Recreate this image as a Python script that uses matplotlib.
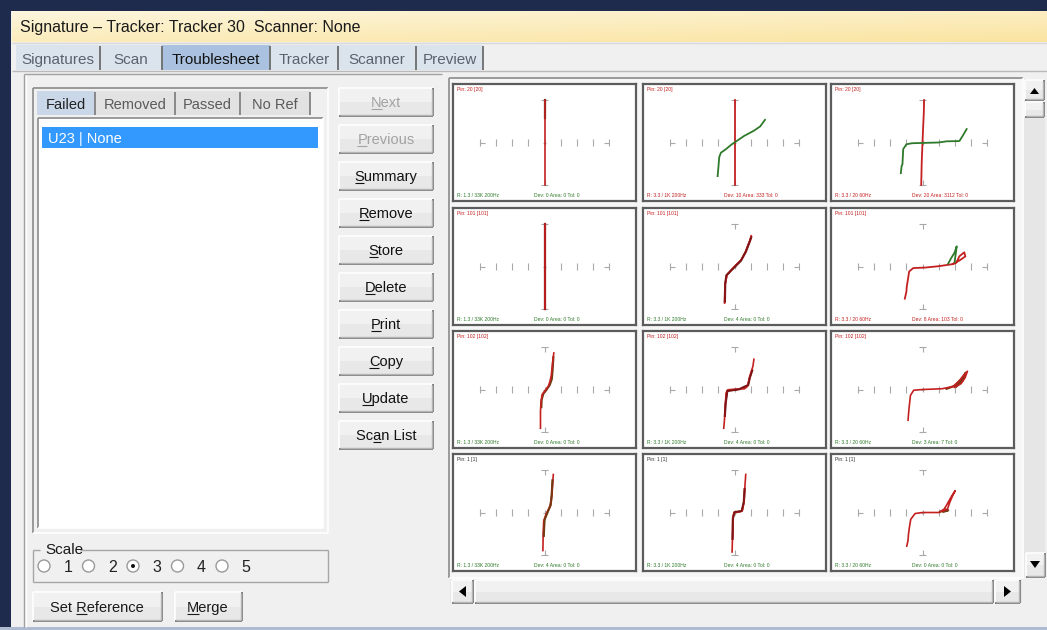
"""
    Signature Troublesheet screen
    - 12 V/I signature thumbnails (reference = red, measured = green)
"""
import numpy as np
import matplotlib
matplotlib.use('Agg')
import matplotlib.pyplot as plt
from matplotlib.patches import Rectangle, Circle, Polygon
from matplotlib.font_manager import FontProperties

W, H = 1047, 630
FONT = ['Liberation Sans', 'DejaVu Sans']
plt.rcParams['font.family'] = FONT

# ---- data -----------------------------------------------------------------
TITLE = 'Signature \u2013 Tracker: Tracker 30  Scanner: None'
TABS = ['Signatures', 'Scan', 'Troublesheet', 'Tracker', 'Scanner', 'Preview']
SUB_TABS = ['Failed', 'Removed', 'Passed', 'No Ref']
LIST_ITEMS = ['U23 | None']
BUTTONS = ['Next', 'Previous', 'Summary', 'Remove', 'Store', 'Delete', 'Print', 'Copy', 'Update', 'Scan List']
BUTTON_UL = [0, 0, 0, 0, 0, 0, 0, 0, 0, 2]
SCALES = ['1', '2', '3', '4', '5']
SCALE_SEL = 2

PIN_LABELS = ['Pin: 20 [20]'] * 3 + ['Pin: 101 [101]'] * 3 + ['Pin: 102 [102]'] * 3 + ['Pin: 1 [1]'] * 3
FREQ_LABELS = ['R: 1.3 / 33K 200Hz', 'R: 3.3 / 1K 200Hz', 'R: 3.3 / 20 60Hz']
DEV_LABELS = ['Dev: 0 Area: 0 Tol: 0', 'Dev: 10 Area: 333 Tol: 0', 'Dev: 20 Area: 3112 Tol: 0',
              'Dev: 0 Area: 0 Tol: 0', 'Dev: 4 Area: 0 Tol: 0', 'Dev: 8 Area: 103 Tol: 0',
              'Dev: 0 Area: 0 Tol: 0', 'Dev: 4 Area: 0 Tol: 0', 'Dev: 3 Area: 7 Tol: 0',
              'Dev: 4 Area: 0 Tol: 0', 'Dev: 4 Area: 0 Tol: 0', 'Dev: 0 Area: 0 Tol: 0']
FAILED = [False, True, True, False, False, True, False, False, False, False, False, False]

TICK_X = [-4, -3, -2, -1, 0, 1, 2, 3, 4]
TICK_Y = [-2.9, 2.9]

# row 0
P1_REF_X = [0, 0]
P1_REF_Y = [-2.9, 2.9]
P1_MEAS_X = [0.05, 0.05]
P1_MEAS_Y = [1.7, 2.9]
P2_REF_X = [0, 0]
P2_REF_Y = [-2.9, 2.9]
P2_MEAS_X = [-1.05, -0.95, -0.85, -0.55, -0.2, 0.0, 0.6, 1.2, 1.6, 1.9]
P2_MEAS_Y = [-2.3, -1.0, -0.7, -0.47, -0.15, 0.0, 0.45, 0.8, 1.1, 1.55]
P3_REF_X = [0.1, 0.08, 0.03, 0.0, -0.05, -0.08]
P3_REF_Y = [2.9, 2.0, 0.8, 0.0, -1.4, -2.9]
P3_MEAS_X = [-1.35, -1.3, -1.25, -1.2, -1.0, -0.65, 0.0, 1.0, 1.5, 2.3, 2.5, 2.75]
P3_MEAS_Y = [-2.1, -1.6, -1.5, -0.45, -0.12, -0.05, -0.03, 0.0, 0.08, 0.1, 0.45, 0.92]
# row 1
P4_REF_X = [0, 0]
P4_REF_Y = [-2.9, 2.9]
P4_MEAS_X = [0.02, 0.02]
P4_MEAS_Y = [-2.9, 2.9]
P5_REF_X = [-0.62, -0.6, -0.58, -0.46, -0.2, 0.0, 0.42, 0.67, 0.94, 1.04]
P5_REF_Y = [-2.5, -1.8, -1.15, -0.57, -0.25, 0.0, 0.46, 0.97, 1.72, 2.1]
P5_MEAS_X = [-0.6, -0.58, -0.5, -0.15, 0.4, 0.7, 0.98, 1.04]
P5_MEAS_Y = [-2.4, -1.2, -0.6, -0.2, 0.4, 1.0, 1.8, 2.0]
P6_REF_X = [-1.1, -1.0, -0.98, -0.83, -0.58, 0.2, 1.0, 1.875, 2.1, 2.3, 2.6, 2.67, 2.3, 2.0, 1.9]
P6_REF_Y = [-2.2, -1.7, -1.38, -0.34, -0.11, -0.07, 0.02, 0.16, 0.25, 0.7, 0.97, 0.69, 0.41, 0.25, 0.18]
P6_MEAS_X = [1.6, 1.8, 2.0, 2.13, 2.05, 2.0]
P6_MEAS_Y = [0.2, 0.6, 0.95, 1.38, 0.7, 0.3]
# row 2
P7_REF_X = [-0.25, -0.25, -0.22, -0.15, 0.05, 0.25, 0.35, 0.42, 0.5, 0.58]
P7_REF_Y = [-2.65, -1.5, -0.9, -0.35, -0.05, 0.25, 0.6, 0.95, 1.8, 2.5]
P7_MEAS_X = [-0.2, -0.18, -0.08, 0.12, 0.32, 0.45, 0.5, 0.55]
P7_MEAS_Y = [-1.2, -0.7, -0.3, -0.02, 0.3, 0.7, 1.3, 2.2]
P8_REF_X = [-0.67, -0.62, -0.58, -0.53, -0.42, 0.0, 0.62, 0.8, 0.88, 0.95, 1.15, 1.21]
P8_REF_Y = [-2.65, -2.0, -1.38, -0.25, -0.02, 0.02, 0.05, 0.2, 0.55, 0.9, 1.6, 2.07]
P8_MEAS_X = [-0.6, -0.56, -0.45, 0.3, 0.85, 0.95, 1.1]
P8_MEAS_Y = [-1.8, -1.0, -0.1, 0.02, 0.3, 0.8, 1.3]
P9_REF_X = [-0.9, -0.85, -0.75, -0.55, 0.0, 1.2, 1.9, 2.3, 2.6, 2.8, 2.65, 2.4, 2.0]
P9_REF_Y = [-2.1, -1.4, -0.4, -0.05, 0.0, 0.05, 0.2, 0.6, 1.0, 1.25, 0.8, 0.4, 0.15]
P9_MEAS_X = [1.5, 2.0, 2.4, 2.7, 2.5, 2.1]
P9_MEAS_Y = [0.05, 0.25, 0.7, 1.15, 0.6, 0.2]
# row 3
P10_REF_X = [-0.1, -0.08, -0.05, 0.1, 0.3, 0.42, 0.48, 0.55]
P10_REF_Y = [-2.6, -1.4, -0.6, -0.1, 0.3, 0.8, 1.6, 2.6]
P10_MEAS_X = [-0.05, 0.0, 0.2, 0.38, 0.45, 0.5]
P10_MEAS_Y = [-1.6, -0.5, 0.05, 0.5, 1.2, 2.2]
P11_REF_X = [-0.15, -0.12, -0.1, -0.02, 0.3, 0.5, 0.6, 0.65, 0.7]
P11_REF_Y = [-2.7, -1.5, -0.3, 0.0, 0.03, 0.15, 0.8, 1.8, 2.6]
P11_MEAS_X = [-0.12, -0.1, 0.0, 0.45, 0.58, 0.63]
P11_MEAS_Y = [-1.8, -0.4, 0.02, 0.1, 0.7, 1.6]
P12_REF_X = [-0.98, -0.9, -0.875, -0.8, -0.73, -0.46, 0.0, 1.04, 1.35, 1.55, 1.77, 1.95, 2.04, 1.9, 1.7, 1.56, 1.3]
P12_REF_Y = [-2.3, -1.9, -1.5, -0.9, -0.46, -0.07, 0.0, 0.0, 0.23, 0.6, 1.03, 1.35, 1.49, 1.2, 0.7, 0.25, 0.1]
P12_MEAS_X = [1.1, 1.4, 1.6, 1.3]
P12_MEAS_Y = [0.05, 0.2, 0.15, 0.05]

REF = [(P1_REF_X, P1_REF_Y), (P2_REF_X, P2_REF_Y), (P3_REF_X, P3_REF_Y),
       (P4_REF_X, P4_REF_Y), (P5_REF_X, P5_REF_Y), (P6_REF_X, P6_REF_Y),
       (P7_REF_X, P7_REF_Y), (P8_REF_X, P8_REF_Y), (P9_REF_X, P9_REF_Y),
       (P10_REF_X, P10_REF_Y), (P11_REF_X, P11_REF_Y), (P12_REF_X, P12_REF_Y)]
MEAS = [(P1_MEAS_X, P1_MEAS_Y), (P2_MEAS_X, P2_MEAS_Y), (P3_MEAS_X, P3_MEAS_Y),
        (P4_MEAS_X, P4_MEAS_Y), (P5_MEAS_X, P5_MEAS_Y), (P6_MEAS_X, P6_MEAS_Y),
        (P7_MEAS_X, P7_MEAS_Y), (P8_MEAS_X, P8_MEAS_Y), (P9_MEAS_X, P9_MEAS_Y),
        (P10_MEAS_X, P10_MEAS_Y), (P11_MEAS_X, P11_MEAS_Y), (P12_MEAS_X, P12_MEAS_Y)]
# measured trace colour: green when it differs, dark red/brown when it sits on the reference
MEAS_COL = ['#4a3a14', '#2f7a2a', '#2f7a2a', '#7a1414', '#7a1414', '#2f7a2a',
            '#6e3b12', '#7a1414', '#6e3b12', '#6e3b12', '#7a1414', '#6e3b12']
MEAS_FIRST = [False, True, True, False, False, True, False, False, False, False, False, False]

# ---- canvas ---------------------------------------------------------------
fig = plt.figure(figsize=(W / 100, H / 100), dpi=100)
ui = fig.add_axes([0, 0, 1, 1])
ui.set_xlim(0, W)
ui.set_ylim(H, 0)
ui.axis('off')
rend = fig.canvas.get_renderer()


def rect(x, y, w, h, fc, ec='none', lw=1, z=1):
    ui.add_patch(Rectangle((x, y), w, h, fc=fc, ec=ec, lw=lw, zorder=z))


def line(xs, ys, c, lw=1, z=3):
    ui.plot(xs, ys, color=c, lw=lw, zorder=z, solid_capstyle='butt')


def text_w(s, size):
    return rend.get_text_width_height_descent(s, FontProperties(family=FONT, size=size), ismath=False)[0]


def label(x, y, s, size=10.5, color='#1a1a1a', ha='center', ul=None, z=5):
    ui.text(x, y, s, fontsize=size, color=color, ha=ha, va='baseline', zorder=z)
    if ul is None:
        return
    tw = text_w(s, size)
    left = x - tw / 2 if ha == 'center' else x
    a = left + text_w(s[:ul], size) if ul else left
    b = left + text_w(s[:ul + 1], size)
    line([a, b], [y + 2, y + 2], color, lw=0.8, z=z)


def raised(x, y, w, h, fc='#e8e8e8'):
    rect(x, y, w, h, fc, z=2)
    rect(x + 1, y + 1, w - 2, h / 2 - 1, '#f1f1f1', z=2)
    line([x, x + w], [y, y], 'white', lw=1.2)
    line([x, x], [y, y + h], 'white', lw=1.2)
    line([x, x + w], [y + h, y + h], '#6f6f6f', lw=1.2)
    line([x + w, x + w], [y, y + h], '#6f6f6f', lw=1.2)
    line([x + 1, x + w - 1], [y + h - 1.5, y + h - 1.5], '#b4b4b4', lw=1)
    line([x + w - 1.5, x + w - 1.5], [y + 1, y + h - 1], '#b4b4b4', lw=1)


def sunken(x, y, w, h, fc='white'):
    rect(x, y, w, h, fc, z=1)
    line([x, x + w], [y, y], '#8a8a8a', lw=1.2)
    line([x, x], [y, y + h], '#8a8a8a', lw=1.2)
    line([x, x + w], [y + h, y + h], 'white', lw=1.2)
    line([x + w, x + w], [y, y + h], 'white', lw=1.2)


# window frame
rect(0, 0, W, H, '#f0f0f0', z=0)
rect(0, 0, W, 11, '#1e2b4d', z=1)
rect(0, 0, 11, H, '#1e2b4d', z=1)
rect(0, H - 3, W, 3, '#aebbd0', z=1)

# title bar gradient
gx = np.linspace(0, 1, 200)
gy = np.linspace(0, 1, 20)[:, None]
top = np.array([253, 246, 222]) / 255
bot = np.array([250, 228, 160]) / 255
grad = top + (bot - top) * np.clip(0.55 * gy + 0.45 * gx[None, :], 0, 1)[..., None]
ui.imshow(grad, extent=(12, W, 42, 11), aspect='auto', zorder=1)
ui.text(20, 32, TITLE, fontsize=11.5, color='#1a1a1a', ha='left', va='baseline', zorder=5)
line([12, W], [42.5, 42.5], '#d8d8d8')

# main tabs
TAB_X = [16, 100, 162, 270, 338, 416, 483]
for i, t in enumerate(TABS):
    x0, x1 = TAB_X[i], TAB_X[i + 1]
    sel = t == 'Troublesheet'
    rect(x0, 45, x1 - x0, 25, '#aac2df' if sel else '#dbe3ec', z=2)
    line([x1, x1], [46, 70], '#6d6d6d', lw=1.3)
    label((x0 + x1) / 2, 64, t, size=11, color='#111111' if sel else '#59636f')
line([12, W], [71, 71], '#b9b9b9')

# left panel
line([24, 24], [74, H - 3], '#a0a0a0')
line([26, 26], [74, H - 3], '#ffffff')
line([24, 442], [74, 74], '#a0a0a0')

# sub tabs + list box
sunken(33, 88, 295, 445, '#f0f0f0')
SUB_X = [37, 95, 175, 240, 310]
for i, t in enumerate(SUB_TABS):
    x0, x1 = SUB_X[i], SUB_X[i + 1]
    sel = i == 0
    rect(x0, 91, x1 - x0, 24, '#c9d7e8' if sel else '#e2e2e2', z=2)
    line([x1, x1], [92, 115], '#7a7a7a', lw=1.2)
    label((x0 + x1) / 2, 109, t, size=10.5, color='#222222' if sel else '#5a5a5a')
sunken(38, 118, 285, 410, 'white')
rect(42, 127, 276, 21, '#3399ff', z=3)
for i, it in enumerate(LIST_ITEMS):
    label(48, 143 + 21 * i, it, size=10.5, color='white', ha='left')

# right column buttons
for i, b in enumerate(BUTTONS):
    y = 88 + 37 * i
    raised(339, y, 94, 28)
    label(386, y + 19, b, size=10.5, color='#a3a3a3' if i < 2 else '#111111', ul=BUTTON_UL[i])

# scale group
line([33, 40], [550, 550], '#a6a6a6')
line([80, 328], [550, 550], '#a6a6a6')
line([33, 33], [550, 582], '#a6a6a6')
line([328, 328], [550, 582], '#a6a6a6')
line([33, 328], [582, 582], '#a6a6a6')
label(45, 554, 'Scale', size=11, ha='left')
for i, s in enumerate(SCALES):
    cx = 44 + 44.5 * i
    ui.add_patch(Circle((cx, 566), 6, fc='white', ec='#9a9a9a', lw=1, zorder=4))
    if i == SCALE_SEL:
        ui.add_patch(Circle((cx, 566), 2, fc='#111111', ec='none', zorder=5))
    label(cx + 24, 572, s, size=11.5, color='#222222')

raised(33, 592, 129, 29)
label(97, 612, 'Set Reference', size=10.5, ul=4)
raised(175, 592, 67, 29)
label(208, 612, 'Merge', size=10.5, ul=0)

# right panel + scrollbars
sunken(449, 78, 574, 500, '#f6f6f6')
rect(1023, 79, 22, 498, '#e6e6e6', z=2)
raised(1025, 80, 19, 20)
ui.add_patch(Polygon([[1030, 94], [1039, 94], [1034.5, 88]], closed=True, fc='black', zorder=6))
raised(1025, 102, 19, 15)
raised(1026, 553, 19, 24)
ui.add_patch(Polygon([[1030, 561], [1040, 561], [1035, 568]], closed=True, fc='black', zorder=6))
rect(450, 579, 572, 24, '#e6e6e6', z=2)
raised(452, 580, 21, 23)
ui.add_patch(Polygon([[466, 586], [466, 597], [459, 591.5]], closed=True, fc='black', zorder=6))
raised(475, 580, 518, 23)
raised(995, 580, 25, 23)
ui.add_patch(Polygon([[1004, 586], [1004, 597], [1011, 591.5]], closed=True, fc='black', zorder=6))

# ---- signature thumbnails ---------------------------------------------------
COL_X = [453, 643, 831]
ROW_Y = [84, 208, 331, 454]
PW, PH = 183, 117
GRAY = '#a9a9a9'
for k in range(12):
    r, c = divmod(k, 3)
    x0, y0 = COL_X[c], ROW_Y[r]
    ax = fig.add_axes([x0 / W, 1 - (y0 + PH) / H, PW / W, PH / H])
    ax.set_xlim(-5.7, 5.7)
    ax.set_ylim(-4, 4)
    ax.set_xticks([])
    ax.set_yticks([])
    for sp in ax.spines.values():
        sp.set_color('#5c5c5c')
        sp.set_linewidth(1.6)

    # graticule
    ax.vlines([t for t in TICK_X if t != 0], -0.25, 0.25, color=GRAY, lw=0.8)
    ax.vlines(0, -0.15, 0.15, color=GRAY, lw=0.8)
    ax.hlines(0, -0.12, 0.12, color=GRAY, lw=0.8)
    ax.hlines(0, TICK_X[0], TICK_X[0] + 0.3, color=GRAY, lw=0.8)
    ax.hlines(0, TICK_X[-1] - 0.3, TICK_X[-1], color=GRAY, lw=0.8)
    ax.hlines(TICK_Y, -0.22, 0.22, color=GRAY, lw=0.8)
    ax.vlines(0, TICK_Y[0], TICK_Y[0] + 0.35, color=GRAY, lw=0.8)
    ax.vlines(0, TICK_Y[1] - 0.35, TICK_Y[1], color=GRAY, lw=0.8)

    rx, ry = REF[k]
    mx, my = MEAS[k]
    if MEAS_FIRST[k]:
        ax.plot(rx, ry, color='#c42020', lw=1.3)
        ax.plot(mx, my, color=MEAS_COL[k], lw=1.3)
    else:
        ax.plot(mx, my, color=MEAS_COL[k], lw=1.6)
        ax.plot(rx, ry, color='#c42020', lw=1.2)
        if k in (4, 7, 9, 10):
            ax.plot(mx, my, color=MEAS_COL[k], lw=1.0)

    bot_col = '#c42020' if FAILED[k] else '#2f7a2a'
    ax.text(0.02, 0.975, PIN_LABELS[k], transform=ax.transAxes, fontsize=3.6,
            color='#333333' if r == 3 else '#c42020', ha='left', va='top')
    ax.text(0.02, 0.025, FREQ_LABELS[c], transform=ax.transAxes, fontsize=3.6,
            color=bot_col, ha='left', va='bottom')
    ax.text(0.44, 0.025, DEV_LABELS[k], transform=ax.transAxes, fontsize=3.6,
            color=bot_col, ha='left', va='bottom')

fig.savefig('out.png', dpi=100)
